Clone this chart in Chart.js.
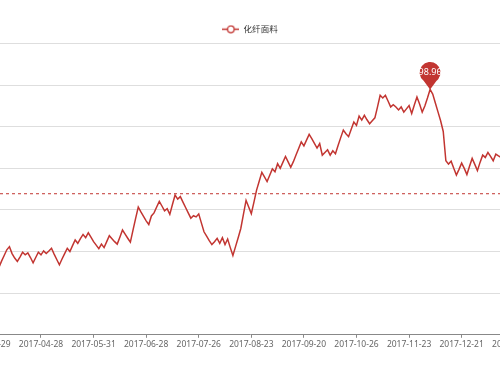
<!DOCTYPE html>
<html>
<head>
<meta charset="utf-8">
<script src="https://cdn.jsdelivr.net/npm/chart.js@4"></script>
<style>
html,body{margin:0;padding:0;background:#fff;overflow:hidden;width:500px;height:375px}
#wrap{position:absolute;left:-50px;top:0;width:600px;height:375px}
</style>
</head>
<body>
<div id="wrap"><canvas id="graph" width="600" height="375"></canvas></div>
<script>

// series name and x tick labels (one label every 20 trading days)
const seriesName="化纤面料";
const tickLabels=["2017-03-29","2017-04-28","2017-05-31","2017-06-28","2017-07-26","2017-08-23","2017-09-20","2017-10-26","2017-11-23","2017-12-21","2018-01-19"];
const tickIndex=[7,27,47,67,87,107,127,147,167,187,207];

// daily index values
const values=[
58.8,59.5,58.3,57.6,58.9,59.4,58.2,
57.86,58.57,58.10,57.14,56.19,57.71,59.05,60.43,61.19,59.52,
58.45,57.62,58.69,59.83,59.21,59.69,58.57,57.31,58.57,59.83,
59.21,60.17,59.52,60.12,60.79,59.40,58.10,56.83,58.21,59.52,
60.79,60.00,61.43,62.79,61.98,63.10,64.12,63.33,64.52,63.45,
62.38,61.55,60.71,61.79,60.95,62.38,63.81,63.10,62.38,61.79,
63.45,65.17,64.17,63.21,62.26,65.17,67.98,70.71,69.52,68.45,
67.38,66.50,68.57,69.29,70.71,72.07,70.95,69.81,70.31,68.93,
71.31,73.57,72.62,73.21,71.90,70.60,69.29,68.02,68.62,68.33,
69.05,66.90,64.76,63.69,62.62,61.67,62.38,63.17,61.98,63.33,
61.67,63.02,60.95,59.05,61.19,63.33,65.55,68.93,72.31,70.71,
69.12,71.90,74.76,76.90,79.05,77.95,76.83,78.33,79.88,79.17,
81.12,80.00,81.43,82.86,81.55,80.24,81.60,83.19,84.76,86.36,
85.40,86.79,88.17,87.14,86.02,84.88,85.95,83.17,83.81,84.45,
83.17,84.21,83.52,85.48,87.38,89.21,88.33,87.62,89.38,91.12,
90.31,92.55,91.60,92.74,91.67,90.71,91.43,92.14,94.76,97.57,
96.90,97.55,96.19,94.76,95.31,94.76,94.05,94.76,93.50,94.29,
95.07,93.17,95.24,97.14,95.48,93.50,95.00,96.90,98.96,97.86,
95.71,93.57,91.43,88.86,81.83,81.02,81.71,80.00,78.40,79.76,
81.26,80.00,78.52,80.48,82.38,80.95,79.45,81.43,83.17,82.62,
83.81,82.86,81.83,83.40,82.98,82.62,83.33,82.38,83.81,82.86,
84.05,83.10,82.14,83.57,82.62,83.81,82.86
];

// average mark line, as read
const avgLine=73.9;

const yMin=40,yMax=110,yStep=10;
const red="#c23531";

// legend icon: short line with a hollow circle
const legendIcon=document.createElement("canvas");
legendIcon.width=17;legendIcon.height=9;
(function(){
const c=legendIcon.getContext("2d");
c.strokeStyle=red;c.lineWidth=1.5;
c.beginPath();c.moveTo(0,4.5);c.lineTo(17,4.5);c.stroke();
c.beginPath();c.arc(8.5,4.5,3.3,0,Math.PI*2);
c.fillStyle="#fff";c.fill();c.lineWidth=1.3;c.stroke();
})();

// pin on the maximum value
const pinPlugin={
id:"pin",
afterDatasetsDraw(chart){
const ds=chart.data.datasets[0].data;
let best=0;
ds.forEach((p,i)=>{if(p.y>ds[best].y)best=i;});
const x=chart.scales.x.getPixelForValue(ds[best].x);
const y=chart.scales.y.getPixelForValue(ds[best].y);
const ctx=chart.ctx;
const r=10.5,cy=y-17;
const a=Math.asin(r/(y-cy));
ctx.save();
ctx.fillStyle=red;
ctx.beginPath();
ctx.moveTo(x,y);
ctx.arc(x,cy,r,Math.PI/2+a,Math.PI/2-a+Math.PI*2,false);
ctx.closePath();
ctx.fill();
ctx.fillStyle="#fff";
ctx.font="9px 'Noto Sans'";
ctx.textAlign="center";
ctx.textBaseline="middle";
ctx.fillText(ds[best].y.toFixed(2),x,cy);
ctx.restore();
}
};

let chart;

function initChart(){

const ctx=document.getElementById("graph");

chart=new Chart(ctx,{
type:"line",
data:{
datasets:[
{
label:seriesName,
data:values.map((v,i)=>({x:i,y:v})),
borderColor:red,
backgroundColor:red,
borderWidth:1.5,
pointRadius:0,
tension:0,
fill:false
},
{
label:"avg",
data:[{x:0,y:avgLine},{x:values.length-1,y:avgLine}],
borderColor:red,
borderWidth:1,
borderDash:[3,3],
pointRadius:0,
fill:false
}
]
},
plugins:[pinPlugin],
options:{
responsive:false,
animation:false,
layout:{padding:{left:20,right:20,top:23,bottom:23}},
plugins:{
tooltip:{enabled:false},
legend:{
display:true,
position:"top",
labels:{
filter:item=>item.datasetIndex===0,
usePointStyle:true,
pointStyle:legendIcon,
pointStyleWidth:17,
boxHeight:9,
padding:2,
color:"#333",
font:{size:8.5,family:"'Noto Sans CJK SC'"}
}
}
},
scales:{
x:{
type:"linear",
min:0,
max:values.length-1,
afterBuildTicks:axis=>{axis.ticks=tickIndex.map(v=>({value:v}));},
grid:{drawOnChartArea:false,drawTicks:true,tickLength:3,color:"#888"},
border:{color:"#888"},
ticks:{
autoSkip:false,
maxRotation:0,
padding:2,
color:"#666",
font:{size:8.5,family:"'Noto Sans'"},
callback:(v,i)=>tickLabels[i]
}
},
y:{
min:yMin,
max:yMax,
afterFit:s=>{s.width=0;},
ticks:{stepSize:yStep,display:false},
grid:{drawTicks:false,color:c=>c.tick&&c.tick.value===yMin?"rgba(0,0,0,0)":"#dedede"},
border:{display:false}
}
}
}
});

}

initChart();

</script>
</body>
</html>
